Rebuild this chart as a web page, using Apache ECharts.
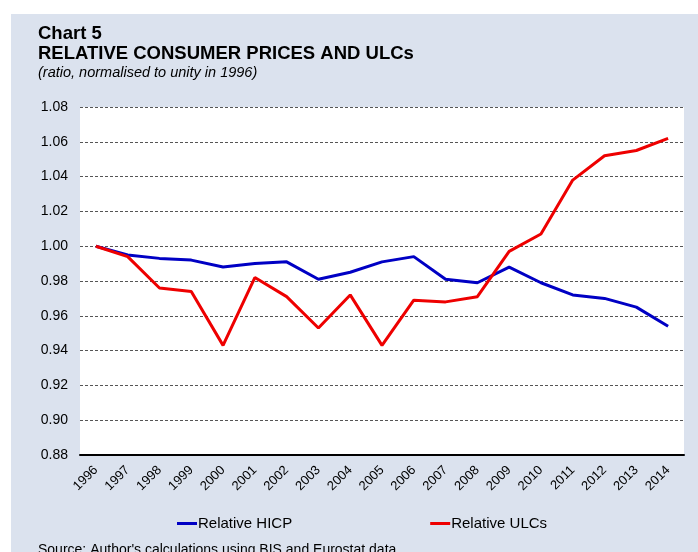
<!DOCTYPE html>
<html>
<head>
<meta charset="utf-8">
<script src="https://cdn.jsdelivr.net/npm/echarts@6/dist/echarts.min.js"></script>
<style>
  html, body { margin: 0; padding: 0; background: #fff; }
  #chart { width: 698px; height: 552px; }
</style>
</head>
<body>
<div id="chart"></div>
<script>
// 年份
const years = ['1996', '1997', '1998', '1999', '2000', '2001', '2002', '2003', '2004', '2005',
  '2006', '2007', '2008', '2009', '2010', '2011', '2012', '2013', '2014'];
// Relative HICP
const hicp = [1.000, 0.995, 0.993, 0.992, 0.988, 0.990, 0.991, 0.981, 0.985, 0.991,
  0.994, 0.981, 0.979, 0.988, 0.979, 0.972, 0.970, 0.965, 0.954];
// Relative ULCs
const ulcs = [1.000, 0.994, 0.976, 0.974, 0.943, 0.982, 0.971, 0.953, 0.972, 0.943,
  0.969, 0.968, 0.971, 0.997, 1.007, 1.038, 1.052, 1.055, 1.062];

const font = '"Liberation Sans", Arial, sans-serif';
const chart = echarts.init(document.getElementById('chart'));

chart.setOption({
  backgroundColor: '#fff',
  animation: false,
  graphic: [
    {
      type: 'rect', z: -10, silent: true,
      shape: {x: 11, y: 14, width: 687, height: 538},
      style: {fill: '#dbe2ee'}
    },
    {
      type: 'text', left: 38, top: 24,
      style: {text: 'Chart 5', font: 'bold 18.5px ' + font, fill: '#000'}
    },
    {
      type: 'text', left: 38, top: 44.5,
      style: {text: 'RELATIVE CONSUMER PRICES AND ULCs', font: 'bold 18.5px ' + font, fill: '#000'}
    },
    {
      type: 'text', left: 38, top: 65.5,
      style: {text: '(ratio, normalised to unity in 1996)', font: 'italic 14.5px ' + font, fill: '#000'}
    },
    {
      type: 'text', left: 38, top: 543,
      style: {text: "Source: Author's calculations using BIS and Eurostat data.", font: '14px ' + font, fill: '#000'}
    }
  ],
  legend: {
    left: 177,
    top: 516,
    padding: 0,
    itemGap: 138,
    itemWidth: 20,
    itemHeight: 3,
    icon: 'rect',
    textStyle: {fontFamily: font, fontSize: 15, color: '#000', padding: [0, 0, 0, -4]},
    data: ['Relative HICP', 'Relative ULCs']
  },
  grid: {
    left: 80,
    right: 14,
    top: 107,
    bottom: 97,
    show: true,
    backgroundColor: '#fff',
    borderWidth: 0
  },
  xAxis: {
    type: 'category',
    data: years,
    boundaryGap: true,
    axisLine: {lineStyle: {color: '#000', width: 2}},
    axisTick: {show: false},
    axisLabel: {rotate: 45, fontFamily: font, fontSize: 13, color: '#000', margin: 13, interval: 0}
  },
  yAxis: {
    type: 'value',
    min: 0.88,
    max: 1.08,
    interval: 0.02,
    axisLine: {show: false},
    axisTick: {show: false},
    axisLabel: {
      fontFamily: font, fontSize: 14, color: '#000', margin: 12,
      formatter: function (v) { return v.toFixed(2); }
    },
    splitLine: {lineStyle: {color: '#555', type: [3, 2], width: 1}}
  },
  series: [
    {
      name: 'Relative HICP',
      type: 'line',
      data: hicp,
      symbol: 'none',
      color: '#0000c4',
      lineStyle: {width: 3, color: '#0000c4'}
    },
    {
      name: 'Relative ULCs',
      type: 'line',
      data: ulcs,
      symbol: 'none',
      color: '#ee0000',
      lineStyle: {width: 3, color: '#ee0000'}
    }
  ]
});
</script>
</body>
</html>
